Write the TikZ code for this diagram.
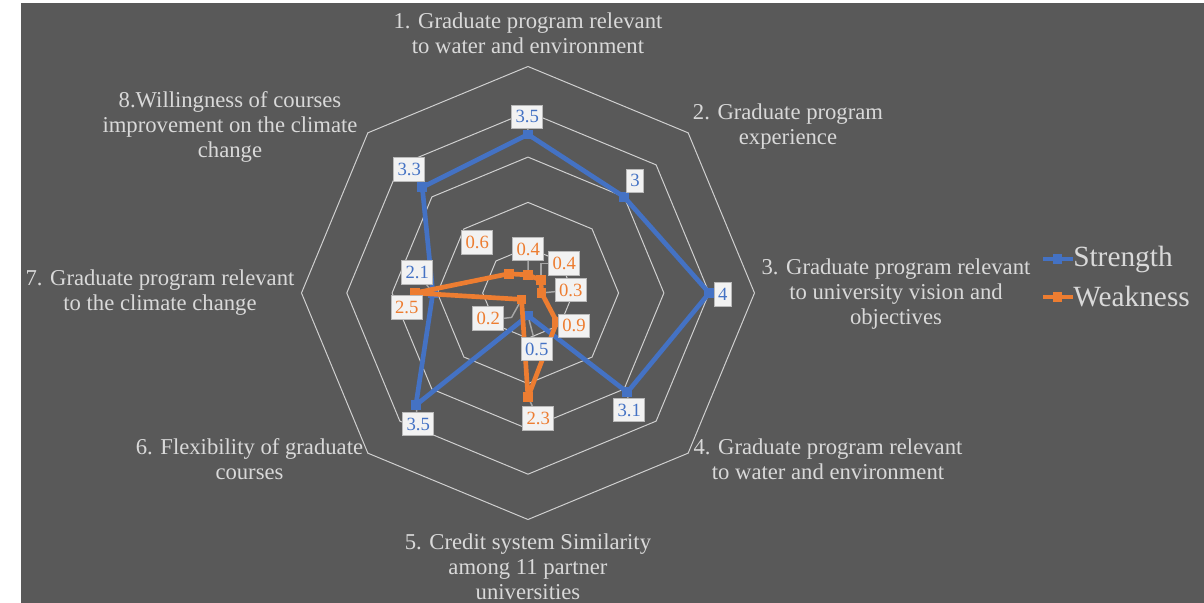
\documentclass[tikz,border=0pt]{standalone}
\usepackage{fontspec}
\setmainfont{Liberation Serif}
\usepackage{xcolor}
\usepackage{tikz}

\definecolor{chartbg}{HTML}{595959}
\definecolor{gridline}{HTML}{D0D0D0}
\definecolor{strength}{HTML}{4472C4}
\definecolor{weakness}{HTML}{ED7D31}
\definecolor{leader}{HTML}{A6A6A6}
\definecolor{labelfill}{HTML}{F2F2F2}
\definecolor{labeltext}{HTML}{D9D9D9}

\pgfdeclarelayer{background}
\pgfsetlayers{background,main}

\begin{document}
\begin{tikzpicture}[x=0.75pt,y=0.75pt,
	axislabel/.style={align=center,text=labeltext,inner sep=0pt,font=\fontsize{17}{18.75}\selectfont},
	legendtext/.style={anchor=west,text=labeltext,inner sep=0pt,font=\fontsize{22}{24}\selectfont},
	datalabel/.style={fill=labelfill,draw=gray!55,line width=0.6pt,inner xsep=2.8pt,inner ysep=0pt,minimum height=17.5pt,font=\fontsize{14}{14}\selectfont},
	sqmark/.style={rectangle,inner sep=0pt,minimum size=7.2pt},
	series/.style={line width=3.5pt,line join=round}]
	\useasboundingbox (-528,-310) rectangle (676,293);
	\begin{pgfonlayer}{background}
	\fill[white] (-528,-310) rectangle (676,293);
	\fill[chartbg] (-507,-310) rectangle (676,290);
	\foreach \r in {1,...,5}{
		\draw[gridline,line width=0.75pt] (90:\r*45.3) -- (45:\r*45.3) -- (0:\r*45.3) -- (-45:\r*45.3) -- (-90:\r*45.3) -- (-135:\r*45.3) -- (180:\r*45.3) -- (135:\r*45.3) -- cycle;
	}
	\end{pgfonlayer}
	
	\node[axislabel] (ax1) at (0,260) {1. Graduate program relevant\\to water and environment};
	\node[axislabel] (ax2) at (260,166) {2. Graduate program\\experience};
	\node[axislabel] (ax3) at (368,-1) {3. Graduate program relevant\\to university vision and\\objectives};
	\node[axislabel] (ax4) at (300,-166) {4. Graduate program relevant\\to water and environment};
	\node[axislabel] (ax5) at (0,-274) {5. Credit system Similarity\\among 11 partner\\universities};
	\node[axislabel] (ax6) at (-278.5,-166) {6. Flexibility of graduate\\courses};
	\node[axislabel] (ax7) at (-368,0) {7. Graduate program relevant\\to the climate change};
	\node[axislabel] (ax8) at (-298,166) {8.Willingness of courses\\improvement on the climate\\change};
	
	\foreach \v [count=\i] in {3.5,3,4,3.1,0.5,3.5,2.1,3.3}
		\coordinate (s\i) at ({90-45*(\i-1)}:{\v*45.3});
	\foreach \v [count=\i] in {0.4,0.4,0.3,0.9,2.3,0.2,2.5,0.6}
		\coordinate (w\i) at ({90-45*(\i-1)}:{\v*45.3});
	
	\draw[strength,series] (s1) -- (s2) -- (s3) -- (s4) -- (s5) -- (s6) -- (s7) -- (s8) -- cycle;
	\foreach \i in {1,...,8}
		\node[sqmark,fill=strength] (sm\i) at (s\i) {};
	\draw[weakness,series] (w1) -- (w2) -- (w3) -- (w4) -- (w5) -- (w6) -- (w7) -- (w8) -- cycle;
	\foreach \i in {1,...,8}
		\node[sqmark,fill=weakness] (wm\i) at (w\i) {};
	
	\node[datalabel,text=strength] (b1) at (-0.7,176.3) {3.5};
	\node[datalabel,text=strength] (b2) at (107,112.3) {3};
	\node[datalabel,text=strength] (b3) at (194.7,-1.3) {4};
	\node[datalabel,text=strength] (b4) at (101.3,-117) {3.1};
	\node[datalabel,text=strength] (b5) at (8.7,-56) {0.5};
	\node[datalabel,text=strength] (b6) at (-109.7,-131) {3.5};
	\node[datalabel,text=strength] (b7) at (-110.7,20.7) {2.1};
	\node[datalabel,text=strength] (b8) at (-118.7,123.7) {3.3};
	\node[datalabel,text=weakness] (o1) at (0.3,44) {0.4};
	\node[datalabel,text=weakness] (o2) at (36.3,29.7) {0.4};
	\node[datalabel,text=weakness] (o3) at (42.7,3) {0.3};
	\node[datalabel,text=weakness] (o4) at (46,-32.7) {0.9};
	\node[datalabel,text=weakness] (o5) at (10.3,-125.3) {2.3};
	\node[datalabel,text=weakness] (o6) at (-39.7,-25.3) {0.2};
	\node[datalabel,text=weakness] (o7) at (-121.3,-14.3) {2.5};
	\node[datalabel,text=weakness] (o8) at (-50.7,50.7) {0.6};
	
	\begin{pgfonlayer}{background}
	\foreach \i in {1,3,4,5,6,7,8}
		\draw[leader,line width=1.1pt] (s\i) -- (b\i);
	\foreach \i in {1,3,5}
		\draw[leader,line width=1.1pt] (w\i) -- (o\i);
	\draw[leader,line width=1.1pt] (w2) |- (o2.west);
	\draw[leader,line width=1.1pt] (w6) -- ++(-10,-18) -- (o6.east);
	\end{pgfonlayer}
	
	\node[legendtext] (strengthtext) at (545,34) {Strength};
	\node[legendtext] (weaknesstext) at (545,-4) {Weakness};
	\coordinate (sleg) at (515,34);
	\coordinate (wleg) at (515,-4);
	\draw[strength,line width=3.5pt] (sleg) -- (strengthtext.west);
	\draw[weakness,line width=3.5pt] (wleg) -- (weaknesstext.west);
	\node[sqmark,fill=strength] (slegmark) at (529.5,34) {};
	\node[sqmark,fill=weakness] (wlegmark) at (529.5,-4) {};
\end{tikzpicture}
\end{document}
